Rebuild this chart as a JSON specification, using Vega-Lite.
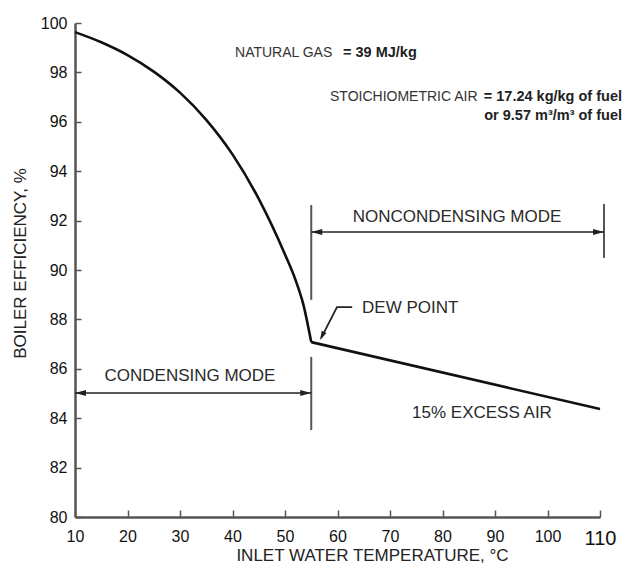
{
  "$schema": "https://vega.github.io/schema/vega-lite/v6.json",
  "width": 525,
  "height": 494,
  "autosize": "none",
  "padding": {"left": 75, "top": 23, "right": 29, "bottom": 52},
  "background": "white",
  "config": {"view": {"stroke": null}, "font": "Liberation Sans"},
  "datasets": {
    "curve": [
      {"x": 10, "y": 99.63, "seg": "a"},
      {"x": 15, "y": 99.22, "seg": "a"},
      {"x": 20, "y": 98.7, "seg": "a"},
      {"x": 25, "y": 98.03, "seg": "a"},
      {"x": 30, "y": 97.18, "seg": "a"},
      {"x": 35, "y": 96.08, "seg": "a"},
      {"x": 40, "y": 94.68, "seg": "a"},
      {"x": 45, "y": 92.88, "seg": "a"},
      {"x": 50, "y": 90.63, "seg": "a"},
      {"x": 52, "y": 89.6, "seg": "a"},
      {"x": 53.5, "y": 88.6, "seg": "a"},
      {"x": 55, "y": 87.08, "seg": "a"},
      {"x": 55, "y": 87.08, "seg": "b"},
      {"x": 110, "y": 84.37, "seg": "b"}
    ],
    "dividers": [
      {"x": 55, "y": 92.63, "y2": 88.79},
      {"x": 55, "y": 86.48, "y2": 83.52},
      {"x": 110.76, "y": 92.67, "y2": 90.49}
    ],
    "arrows": [
      {"x": 10, "x2": 55, "y": 85.02},
      {"x": 55, "x2": 110.76, "y": 91.54}
    ],
    "heads": [
      {"x": 10, "y": 85.02, "dir": "left"},
      {"x": 55, "y": 85.02, "dir": "right"},
      {"x": 55, "y": 91.54, "dir": "left"},
      {"x": 110.76, "y": 91.54, "dir": "right"}
    ],
    "leader": [
      {"x": 62.8, "y": 88.5, "o": 1},
      {"x": 59.9, "y": 88.5, "o": 2},
      {"x": 56.9, "y": 87.25, "o": 3}
    ],
    "leaderHead": [
      {"x": 56.67, "y": 87.17}
    ],
    "labelsCenter": [
      {"x": 82.76, "y": 92.15, "text": "NONCONDENSING MODE"},
      {"x": 31.9, "y": 85.71, "text": "CONDENSING MODE"},
      {"x": 87.52, "y": 84.21, "text": "15% EXCESS AIR"}
    ],
    "labelsLeft": [
      {"x": 64.67, "y": 88.46, "text": "DEW POINT"}
    ],
    "notesSmall": [
      {"x": 40.48, "y": 98.79, "text": "NATURAL GAS"},
      {"x": 58.57, "y": 97.0, "text": "STOICHIOMETRIC AIR"}
    ],
    "notesBoldLeft": [
      {"x": 61.05, "y": 98.79, "text": "= 39 MJ/kg"}
    ],
    "notesBoldRight": [
      {"x": 114.19, "y": 97.0, "text": "= 17.24 kg/kg of fuel"},
      {"x": 114.19, "y": 96.23, "text": "or 9.57 m³/m³ of fuel"}
    ]
  },
  "encoding": {
    "x": {
      "field": "x", "type": "quantitative",
      "scale": {"domain": [10, 110], "nice": false, "zero": false},
      "axis": {
        "values": [10, 20, 30, 40, 50, 60, 70, 80, 90, 100, 110],
        "title": "INLET WATER TEMPERATURE, °C",
        "grid": false,
        "domainColor": "#555555", "domainWidth": 2.5,
        "tickColor": "#555555", "tickWidth": 1.5, "tickSize": -7,
        "labelPadding": 18,
        "labelFont": "Liberation Sans",
        "labelFontSize": {"condition": {"test": "datum.value == 110", "value": 20}, "value": 16},
        "labelColor": "#111111",
        "labelFlush": false, "labelOverlap": false,
        "titleFont": "Liberation Sans", "titleFontSize": 17, "titleFontWeight": "normal",
        "titleColor": "#222222",
        "titleX": 297, "titleY": 38, "titleBaseline": "middle"
      }
    },
    "y": {
      "field": "y", "type": "quantitative",
      "scale": {"domain": [80, 100], "nice": false, "zero": false},
      "axis": {
        "values": [80, 82, 84, 86, 88, 90, 92, 94, 96, 98, 100],
        "title": "BOILER EFFICIENCY, %",
        "grid": false,
        "domainColor": "#555555", "domainWidth": 2.5,
        "tickColor": "#555555", "tickWidth": 1.5, "tickSize": -6,
        "labelPadding": 14,
        "labelFont": "Liberation Sans", "labelFontSize": 16,
        "labelColor": "#111111",
        "labelFlush": false, "labelOverlap": false,
        "titleFont": "Liberation Sans", "titleFontSize": 17, "titleFontWeight": "normal",
        "titleColor": "#222222",
        "titleX": -55, "titleY": 240, "titleBaseline": "middle"
      }
    }
  },
  "layer": [
    {
      "data": {"name": "curve"},
      "mark": {"type": "line", "interpolate": "monotone", "color": "#111111", "strokeWidth": 2.6},
      "encoding": {"detail": {"field": "seg"}}
    },
    {
      "data": {"name": "dividers"},
      "mark": {"type": "rule", "color": "#555555", "strokeWidth": 2},
      "encoding": {"y2": {"field": "y2"}}
    },
    {
      "data": {"name": "arrows"},
      "mark": {"type": "rule", "color": "#222222", "strokeWidth": 1.6},
      "encoding": {"x2": {"field": "x2"}}
    },
    {
      "data": {"name": "heads"},
      "mark": {"type": "point", "filled": true, "color": "#222222", "size": 121, "opacity": 1},
      "encoding": {
        "shape": {
          "field": "dir", "type": "nominal", "legend": null,
          "scale": {"domain": ["left", "right"], "range": ["M0,0L2,-0.55L2,0.55Z", "M0,0L-2,-0.55L-2,0.55Z"]}
        }
      }
    },
    {
      "data": {"name": "leader"},
      "mark": {"type": "line", "color": "#222222", "strokeWidth": 1.8},
      "encoding": {"order": {"field": "o", "type": "quantitative"}}
    },
    {
      "data": {"name": "leaderHead"},
      "mark": {"type": "point", "filled": true, "color": "#222222", "size": 81, "opacity": 1, "shape": "M0,0L-2,-0.6L-2,0.6Z", "angle": 117}
    },
    {
      "data": {"name": "labelsCenter"},
      "mark": {"type": "text", "font": "Liberation Sans", "fontSize": 17, "color": "#2a2a2a", "align": "center", "baseline": "middle"},
      "encoding": {"text": {"field": "text"}}
    },
    {
      "data": {"name": "labelsLeft"},
      "mark": {"type": "text", "font": "Liberation Sans", "fontSize": 17, "color": "#2a2a2a", "align": "left", "baseline": "middle"},
      "encoding": {"text": {"field": "text"}}
    },
    {
      "data": {"name": "notesSmall"},
      "mark": {"type": "text", "font": "Liberation Sans", "fontSize": 14, "color": "#333333", "align": "left", "baseline": "middle"},
      "encoding": {"text": {"field": "text"}}
    },
    {
      "data": {"name": "notesBoldLeft"},
      "mark": {"type": "text", "font": "Liberation Sans", "fontSize": 14.5, "fontWeight": "bold", "color": "#222222", "align": "left", "baseline": "middle"},
      "encoding": {"text": {"field": "text"}}
    },
    {
      "data": {"name": "notesBoldRight"},
      "mark": {"type": "text", "font": "Liberation Sans", "fontSize": 14.5, "fontWeight": "bold", "color": "#222222", "align": "right", "baseline": "middle"},
      "encoding": {"text": {"field": "text"}}
    }
  ]
}
